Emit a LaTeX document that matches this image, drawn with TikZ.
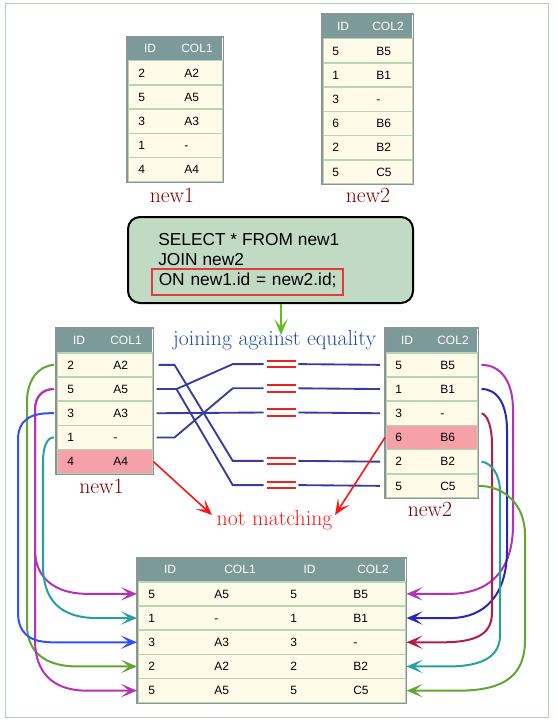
\documentclass[tikz,border=0pt]{standalone}
\usepackage{fontspec}
\usetikzlibrary{arrows.meta,calc}
\newfontfamily\arialf{Liberation Sans}
\newcommand\pxu{0.75pt}
\newcommand\tabfont{\arialf\fontsize{9}{11}\selectfont}
\newcommand\sqlfont{\arialf\fontsize{13}{15}\selectfont}
\newcommand\labfont{\fontsize{16.3}{19}\selectfont}
\definecolor{hdrcol}{RGB}{125,154,154}
\definecolor{rowfill}{RGB}{255,251,232}
\definecolor{sepcol}{RGB}{180,214,180}
\definecolor{bordcol}{RGB}{140,150,145}
\definecolor{pinkhl}{RGB}{246,160,170}
\definecolor{sqlfill}{RGB}{192,218,196}
\definecolor{framecol}{RGB}{170,215,170}
\definecolor{joinblue}{RGB}{55,60,160}
\definecolor{eqred}{RGB}{235,35,30}
\definecolor{onred}{RGB}{225,60,60}
\definecolor{labred}{RGB}{120,0,0}
\definecolor{txtblue}{RGB}{35,75,160}
\definecolor{nmred}{RGB}{255,20,20}
\definecolor{arrgreen}{RGB}{96,190,30}
\definecolor{cmag}{RGB}{180,50,180}
\definecolor{cblueL}{RGB}{50,80,255}
\definecolor{cblueR}{RGB}{40,40,180}
\definecolor{cteal}{RGB}{40,160,160}
\definecolor{cgreen}{RGB}{100,165,50}
\definecolor{ccrim}{RGB}{180,30,70}
\tikzset{
  hdrcell/.style={fill=hdrcol, draw=none, inner sep=0, anchor=north west},
  rowcell/.style={draw=sepcol, line width=1.5*\pxu, inner sep=0, anchor=north west, minimum height=24.2*\pxu},
  hdrtxt/.style={text=white, font=\tabfont, inner sep=0, text height=6.5pt, text depth=0pt},
  celltxt/.style={font=\tabfont, inner sep=0, anchor=west, text height=6.5pt, text depth=0pt},
  tblborder/.style={draw=bordcol, line width=1.5*\pxu},
  sqlbox/.style={draw=black, line width=1.5pt, fill=sqlfill, rounded corners=12*\pxu, minimum width=285*\pxu, minimum height=86*\pxu, inner sep=0},
  sqltxt/.style={font=\sqlfont, inner sep=0, anchor=base west},
  onbox/.style={font=\sqlfont, draw=onred, line width=1.5*\pxu, anchor=west, inner xsep=7*\pxu, inner ysep=0, text width=177*\pxu, align=left, minimum height=26*\pxu, text height=9.3pt, text depth=4.8pt},
  lab/.style={font=\labfont, inner sep=0, anchor=base},
  eqbox/.style={minimum width=29*\pxu, minimum height=6*\pxu, inner sep=0},
  eqln/.style={draw=eqred, line width=1.6pt},
  joinln/.style={draw=joinblue, line width=1.4pt},
  arrowed/.style={-{Stealth[length=12pt,width=10pt,inset=6pt]}},
  curve/.style={line width=1.5pt, arrowed},
}
\begin{document}
\begin{tikzpicture}[x=0.75pt,y=-0.75pt]
\useasboundingbox (0,0) rectangle (557,724);
\draw[framecol, line width=1*\pxu] (5,4) rectangle (548,717);

% ---------- top table new1
\node[hdrcell, minimum width=95*\pxu, minimum height=23*\pxu] (a0) at (127,37) {};
\node[hdrtxt] at (150,48.5) {ID};
\node[hdrtxt] at (197,48.5) {COL1};
\foreach \p/\q [count=\i] in {2/A2,5/A5,3/A3,1/-,4/A4} {
  \node[rowcell, fill=rowfill, minimum width=95*\pxu] (a\i) at (127,{60+(\i-1)*24.2}) {};
  \node[celltxt] at ($(a\i.west)+(11,0)$) {\p};
  \node[celltxt] at ($(a\i.west)+(57,0)$) {\q};
}
\draw[tblborder] (a0.north west) rectangle (a5.south east);
\node[lab, text=labred] (lt1) at (172,202) {new1};

% ---------- top table new2
\node[hdrcell, minimum width=90*\pxu, minimum height=24*\pxu] (b0) at (322,14) {};
\node[hdrtxt] at (343,26) {ID};
\node[hdrtxt] at (388,26) {COL2};
\foreach \p/\q [count=\i] in {5/B5,1/B1,3/-,6/B6,2/B2,5/C5} {
  \node[rowcell, fill=rowfill, minimum width=90*\pxu] (b\i) at (322,{38+(\i-1)*24.2}) {};
  \node[celltxt] at ($(b\i.west)+(10,0)$) {\p};
  \node[celltxt] at ($(b\i.west)+(54,0)$) {\q};
}
\draw[tblborder] (b0.north west) rectangle (b6.south east);
\node[lab, text=labred] (lt2) at (368,202) {new2};

% ---------- SQL box
\node[sqlbox] (sql) at (270.5,260) {};
\node[sqltxt] (s1) at (158,245) {SELECT * FROM new1};
\node[sqltxt] (s2) at (158,265) {JOIN new2};
\node[onbox] (s3) at (151,282) {\mbox{ON new1.id = new2.id;}};
\coordinate (gtip) at (281,335);
\draw[arrgreen, line width=1.5pt, arrowed] ($(sql.south)+(10.5,0)$) -- (gtip);
\node[lab, text=txtblue] (jl) at (274.5,345) {joining against equality};

% ---------- middle table new1
\node[hdrcell, minimum width=96*\pxu, minimum height=24*\pxu] (L0) at (56,328) {};
\node[hdrtxt] at (79,340) {ID};
\node[hdrtxt] at (126,340) {COL1};
\foreach \p/\q/\f [count=\i] in {2/A2/rowfill,5/A5/rowfill,3/A3/rowfill,1/-/rowfill,4/A4/pinkhl} {
  \node[rowcell, fill=\f, minimum width=96*\pxu] (L\i) at (56,{352+(\i-1)*24.2}) {};
  \node[celltxt] at ($(L\i.west)+(11,0)$) {\p};
  \node[celltxt] at ($(L\i.west)+(57,0)$) {\q};
}
\draw[tblborder] (L0.north west) rectangle (L5.south east);
\node[lab, text=labred] (lm1) at (101.5,493) {new1};

% ---------- middle table new2
\node[hdrcell, minimum width=92*\pxu, minimum height=24*\pxu] (R0) at (385,328) {};
\node[hdrtxt] at (407,340) {ID};
\node[hdrtxt] at (453,340) {COL2};
\foreach \p/\q/\f [count=\i] in {5/B5/rowfill,1/B1/rowfill,3/-/rowfill,6/B6/pinkhl,2/B2/rowfill,5/C5/rowfill} {
  \node[rowcell, fill=\f, minimum width=92*\pxu] (R\i) at (385,{352+(\i-1)*24.2}) {};
  \node[celltxt] at ($(R\i.west)+(10,0)$) {\p};
  \node[celltxt] at ($(R\i.west)+(55,0)$) {\q};
}
\draw[tblborder] (R0.north west) rectangle (R6.south east);
\node[lab, text=labred] (lm2) at (430,516) {new2};

% ---------- equal signs
\foreach \n/\y in {1/364.1,2/388.3,3/412.5,4/460.9,5/485.1} {
  \node[eqbox] (eq\n) at (281.5,\y) {};
  \draw[eqln] (eq\n.north west) -- (eq\n.north east) (eq\n.south west) -- (eq\n.south east);
}

% ---------- join lines
\draw[joinln] ($(L1.east)+(5,0)$) -- ++(16,0) -- ($(eq4.west)+(-34,0)$) -- ($(eq4.west)+(-3,0)$);
\draw[joinln] ($(L2.east)+(3,0)$) -- ++(20,0) coordinate (br) -- ($(eq1.west)+(-34,0)$) -- ($(eq1.west)+(-3,0)$);
\draw[joinln] (br) -- ($(eq5.west)+(-34,0)$) -- ($(eq5.west)+(-3,0)$);
\draw[joinln] ($(L3.east)+(3,0)$) -- ($(eq3.west)+(-3,0)$);
\draw[joinln] ($(L4.east)+(3,0)$) -- ++(18,0) -- ($(eq2.west)+(-34,0)$) -- ($(eq2.west)+(-3,0)$);
\foreach \e/\r in {eq1/R1,eq2/R2,eq3/R3,eq4/R5,eq5/R6}
  \draw[joinln] ($(\e.east)+(2,0)$) -- ($(\r.west)+(-5,0)$);

% ---------- not matching
\node[lab, text=nmred] (nm) at (274.5,525) {not matching};
\coordinate (nmL) at (212,515);
\coordinate (nmR) at (335,515);
\draw[nmred, line width=1.2pt, arrowed] (L5.east) -- (nmL);
\draw[nmred, line width=1.2pt, arrowed] (R4.west) -- (nmR);

% ---------- bottom result table
\node[hdrcell, minimum width=268*\pxu, minimum height=23*\pxu] (J0) at (137,558) {};
\node[hdrtxt] at (170,569.5) {ID};
\node[hdrtxt] at (240,569.5) {COL1};
\node[hdrtxt] at (309.5,569.5) {ID};
\node[hdrtxt] at (373,569.5) {COL2};
\foreach \p/\q/\r/\s [count=\i] in {5/A5/5/B5,1/-/1/B1,3/A3/3/-,2/A2/2/B2,5/A5/5/C5} {
  \node[rowcell, fill=rowfill, minimum width=268*\pxu] (J\i) at (137,{581+(\i-1)*24.2}) {};
  \node[celltxt] at ($(J\i.west)+(11,0)$) {\p};
  \node[celltxt] at ($(J\i.west)+(77,0)$) {\q};
  \node[celltxt] at ($(J\i.west)+(153,0)$) {\r};
  \node[celltxt] at ($(J\i.west)+(216,0)$) {\s};
}
\draw[tblborder] (J0.north west) rectangle (J5.south east);

% ---------- left curves
\draw[curve, cgreen] ($(L1.west)+(-2,0)$) .. controls (38,366) and (27,380) .. (27,402) -- (27,625) .. controls (27,652) and (45,665.7) .. ($(J4.west)+(-62,0)$) -- (J4.west);
\draw[curve, cmag] ($(L2.west)+(-2,0)$) .. controls (42,389) and (35,397) .. (35,410) -- (35,550) .. controls (35,578) and (55,593.1) .. ($(J1.west)+(-52,0)$) -- (J1.west);
\draw[curve, cmag] ($(L2.west)+(-2,0)$) .. controls (42,389) and (35,397) .. (35,410) -- (35,640) .. controls (35,672) and (52,689.9) .. ($(J5.west)+(-52,0)$) -- (J5.west);
\draw[curve, cblueL] ($(L3.west)+(-2,0)$) .. controls (30,412.5) and (18,420) .. (18,440) -- (18,612) .. controls (18,632) and (28,641.5) .. ($(J3.west)+(-87,0)$) -- (J3.west);
\draw[curve, cteal] ($(L4.west)+(-2,0)$) .. controls (47,437) and (43,447) .. (43,462) -- (43,565) .. controls (43,600) and (60,617.3) .. ($(J2.west)+(-42,0)$) -- (J2.west);

% ---------- right curves
\draw[curve, cmag] ($(R1.east)+(3,0)$) .. controls (500,365) and (513,380) .. (513,410) -- (513,525) .. controls (513,570) and (490,593.1) .. ($(J1.east)+(45,0)$) -- (J1.east);
\draw[curve, cblueR] ($(R2.east)+(3,0)$) .. controls (498,389) and (507,405) .. (507,430) -- (507,550) .. controls (507,595) and (485,617.3) .. ($(J2.east)+(45,0)$) -- (J2.east);
\draw[curve, ccrim] ($(R3.east)+(3,0)$) .. controls (488,415) and (492,428) .. (492,445) -- (492,612) .. controls (492,632) and (480,641.5) .. ($(J3.east)+(40,0)$) -- (J3.east);
\draw[curve, cteal] ($(R5.east)+(3,0)$) .. controls (492,463) and (500,475) .. (500,492) -- (500,635) .. controls (500,655) and (485,665.7) .. ($(J4.east)+(45,0)$) -- (J4.east);
\draw[curve, cgreen] (R6.east) .. controls (505,486) and (525,505) .. (525,535) -- (525,640) .. controls (525,675) and (505,689.9) .. ($(J5.east)+(55,0)$) -- (J5.east);
\end{tikzpicture}
\end{document}
